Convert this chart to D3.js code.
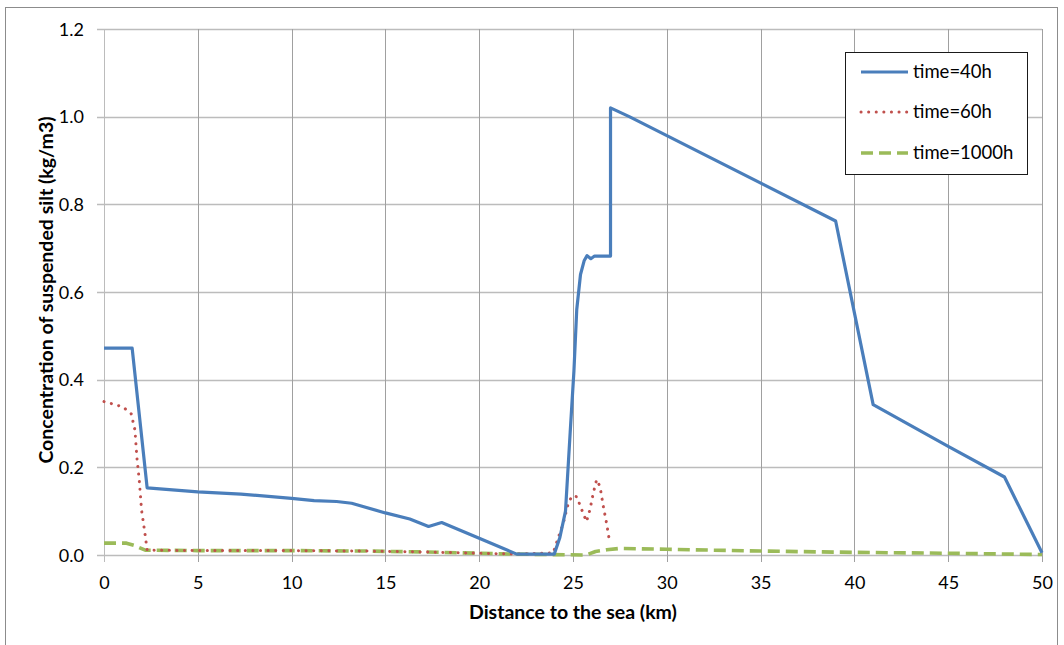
<!DOCTYPE html>
<html>
<head>
<meta charset="utf-8">
<script src="https://cdn.jsdelivr.net/npm/d3@7/dist/d3.min.js"></script>
<style>
  html, body { margin: 0; padding: 0; background: #fff; }
  svg { display: block; font-family: Lato, "Noto Sans", sans-serif; }
</style>
</head>
<body>
<svg id="chart" width="1064" height="645"></svg>
<script>
// Suspended silt concentration along the river, three time snapshots
const xTicks = [0, 5, 10, 15, 20, 25, 30, 35, 40, 45, 50];
const yTicks = [0, 0.2, 0.4, 0.6, 0.8, 1.0, 1.2];

const seriesNames = ["time=40h", "time=60h", "time=1000h"];

const t40 = [
  [0, 0.472], [1.5, 0.472], [2.3, 0.153], [5, 0.144], [7.3, 0.139], [10, 0.129],
  [11.2, 0.124], [12.4, 0.122], [13.2, 0.118], [15, 0.096], [16.3, 0.082],
  [17.3, 0.065], [18, 0.074], [20, 0.038], [22, 0.002], [24, 0.002],
  [24.3, 0.04], [24.6, 0.10], [24.85, 0.28], [25.05, 0.42], [25.2, 0.56],
  [25.4, 0.64], [25.6, 0.672], [25.75, 0.683], [25.95, 0.676], [26.15, 0.682],
  [27, 0.682], [27, 1.02], [28, 1.0], [39, 0.762], [41, 0.343], [45, 0.248],
  [48, 0.178], [50, 0.005]
];

const t60 = [
  [0, 0.35], [1.0, 0.338], [1.45, 0.322], [1.65, 0.285], [1.75, 0.224],
  [1.88, 0.17], [2.0, 0.103], [2.18, 0.05], [2.3, 0.011], [5, 0.01], [10, 0.01],
  [14, 0.009], [17, 0.007], [20, 0.004], [22, 0.002], [23.95, 0.005],
  [24.2, 0.038], [24.48, 0.072], [24.75, 0.118], [24.95, 0.135], [25.2, 0.133],
  [25.45, 0.105], [25.72, 0.076], [25.9, 0.103], [26.08, 0.141], [26.26, 0.172],
  [26.44, 0.156], [26.62, 0.11], [26.8, 0.07], [26.97, 0.025]
];

const t1000 = [
  [0, 0.027], [1.2, 0.027], [1.6, 0.022], [2.2, 0.011], [5, 0.01], [10, 0.01],
  [14, 0.009], [17, 0.007], [20, 0.004], [22, 0.002], [25.7, 0.0], [26.2, 0.008],
  [26.8, 0.012], [27.5, 0.015], [30, 0.013], [35, 0.009], [40, 0.006],
  [45, 0.004], [50, 0.001]
];

const svg = d3.select("#chart");

// outer chart frame
svg.append("rect")
  .attr("x", 5.5).attr("y", 7.5).attr("width", 1052).attr("height", 700)
  .attr("fill", "#fff").attr("stroke", "#8c8c8c").attr("stroke-width", 1);

const x = d3.scaleLinear().domain([0, 50]).range([104, 1042]);
const y = d3.scaleLinear().domain([0, 1.2]).range([555, 29]);

// gridlines
svg.append("g").selectAll("line").data(yTicks).join("line")
  .attr("x1", x(0) - 7).attr("x2", x(50))
  .attr("y1", d => Math.round(y(d)) + 0.5).attr("y2", d => Math.round(y(d)) + 0.5)
  .attr("stroke", "#bcbcbc").attr("stroke-width", 1.3);

svg.append("g").selectAll("line").data(xTicks).join("line")
  .attr("y1", y(1.2)).attr("y2", y(0) + 7)
  .attr("x1", d => Math.round(x(d)) + 0.5).attr("x2", d => Math.round(x(d)) + 0.5)
  .attr("stroke", d => d === 0 ? "#bcbcbc" : "#a0a0a0").attr("stroke-width", 1);

// axes (labels only, lines come from the grid)
const xAxis = d3.axisBottom(x).tickValues(xTicks).tickSize(0).tickPadding(0)
  .tickFormat(d3.format("d"));
const gx = svg.append("g").attr("transform", `translate(0,${y(0)})`).call(xAxis);
gx.select(".domain").remove();
gx.selectAll("text").attr("dy", null).attr("y", 34)
  .attr("font-size", 18).attr("fill", "#000").attr("font-family", "Lato, sans-serif");

const yAxis = d3.axisLeft(y).tickValues(yTicks).tickSize(0).tickPadding(0)
  .tickFormat(d3.format(".1f"));
const gy = svg.append("g").attr("transform", `translate(${x(0)},0)`).call(yAxis);
gy.select(".domain").remove();
gy.selectAll("text").attr("x", -20).attr("dy", "0.35em")
  .attr("font-size", 18).attr("fill", "#000").attr("font-family", "Lato, sans-serif");

// axis titles
svg.append("text")
  .attr("x", 573).attr("y", 619).attr("text-anchor", "middle")
  .attr("font-size", 19.5).attr("font-weight", "bold")
  .text("Distance to the sea (km)");

svg.append("text")
  .attr("transform", "translate(53,290) rotate(-90)")
  .attr("text-anchor", "middle")
  .attr("font-size", 19.5).attr("font-weight", "bold")
  .text("Concentration of suspended silt (kg/m3)");

// series
const line = d3.line().x(d => x(d[0])).y(d => y(d[1]));
const styles = [
  { data: t40,   color: "#4a7ebb", width: 3.2, dash: null,  cap: "butt" },
  { data: t60,   color: "#c0504d", width: 3.0, dash: "0.1,7.5", cap: "round" },
  { data: t1000, color: "#9bbb59", width: 3.6, dash: "12,6", cap: "butt" }
];

const plot = svg.append("g");
[styles[2], styles[1], styles[0]].forEach(s => {
  plot.append("path").datum(s.data)
    .attr("d", line)
    .attr("fill", "none")
    .attr("stroke", s.color)
    .attr("stroke-width", s.width)
    .attr("stroke-linejoin", "round")
    .attr("stroke-linecap", s.cap)
    .attr("stroke-dasharray", s.dash);
});

// legend
const legend = svg.append("g");
legend.append("rect")
  .attr("x", 845.5).attr("y", 52.5).attr("width", 182).attr("height", 122)
  .attr("fill", "#fff").attr("stroke", "#1a1a1a").attr("stroke-width", 1);

const legendY = [72, 112, 153];
styles.forEach((s, i) => {
  legend.append("line")
    .attr("x1", 861).attr("x2", 908)
    .attr("y1", legendY[i]).attr("y2", legendY[i])
    .attr("stroke", s.color).attr("stroke-width", s.width)
    .attr("stroke-linecap", s.cap)
    .attr("stroke-dasharray", s.dash);
  legend.append("text")
    .attr("x", 913).attr("y", legendY[i]).attr("dy", "0.35em")
    .attr("font-size", 18.5)
    .text(seriesNames[i]);
});
</script>
</body>
</html>
